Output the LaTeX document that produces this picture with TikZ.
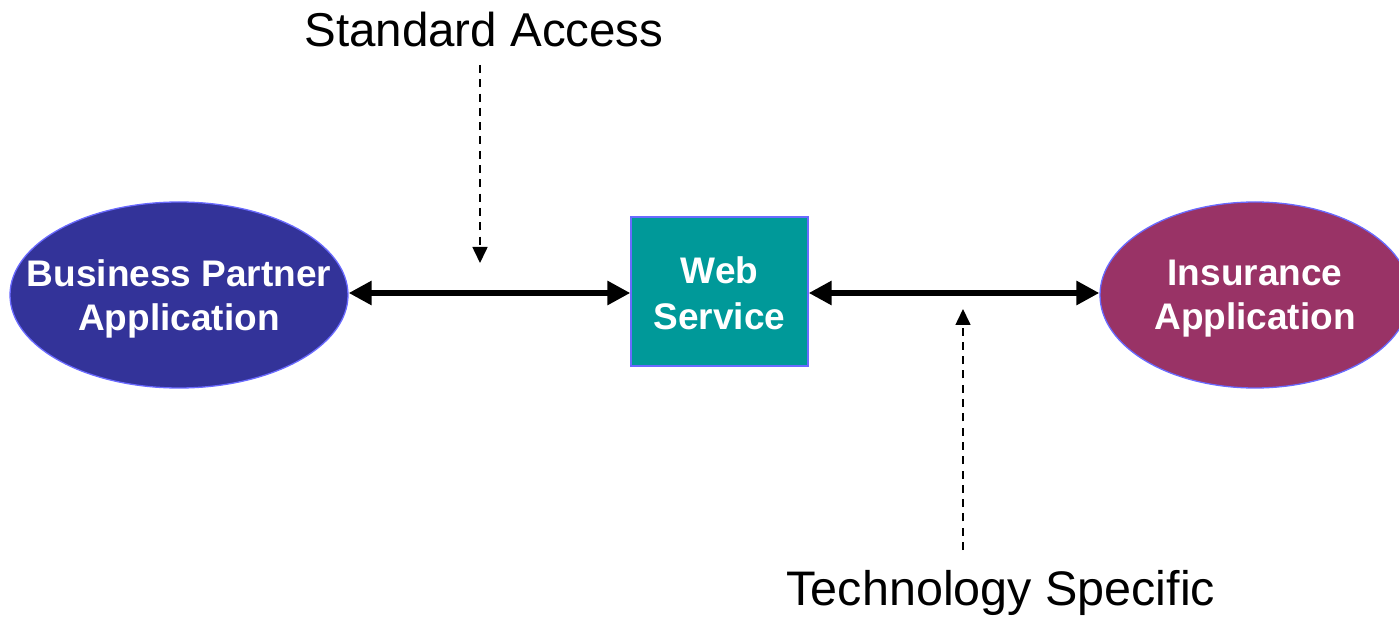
\documentclass[tikz,border=0pt]{standalone}
\usepackage{fontspec}
\setmainfont{Liberation Sans}
\usetikzlibrary{arrows.meta,shapes.geometric}
\definecolor{bpblue}{HTML}{333399}
\definecolor{insmag}{HTML}{993366}
\definecolor{wsteal}{HTML}{009999}
\definecolor{rimblue}{HTML}{6A6AFF}
\tikzset{
  appnode/.style={ellipse, draw=rimblue, line width=1.3pt, inner ysep=0pt, inner xsep=-40pt,
    minimum width=338pt, minimum height=186pt, text=white, align=center,
    text depth=0pt, font=\fontsize{37}{44}\selectfont\bfseries},
  wsnode/.style={rectangle, draw=rimblue, line width=1.3pt, fill=wsteal, inner sep=0pt,
    minimum width=177pt, minimum height=149pt, text=white, align=center,
    text height=77pt, text depth=0pt, font=\fontsize{37}{46}\selectfont\bfseries},
  biglabel/.style={anchor=base, inner sep=0pt},
  link/.style={line width=6.5pt, {Triangle[length=23pt,width=23pt]}-{Triangle[length=23pt,width=23pt]}},
  pointer/.style={line width=1.6pt, dash pattern=on 8pt off 6.3pt, -{Triangle[length=16pt,width=15pt]}}
}
\begin{document}
\begin{tikzpicture}[x=1pt,y=-1pt]
\useasboundingbox (0,0) rectangle (1399,617);
\node[appnode, fill=bpblue] (bp) at (179,295) {Business Partner\\Application};
\node[appnode, fill=insmag, minimum width=310pt] (ins) at (1255,295) {Insurance\\Application};
\node[wsnode] (ws) at (719.5,291.5) {Web\\Service};
\node[biglabel, font=\fontsize{47.5}{56}\selectfont] (sa) at (484,47) {Standard Access};
\node[biglabel, font=\fontsize{48.5}{58}\selectfont] (ts) at (1001,605) {Technology Specific};
\coordinate (saStart) at (480,65);
\coordinate (saTip) at (480,263);
\coordinate (tsStart) at (963,550);
\coordinate (tsTip) at (963,309);
\draw[link] (bp.east |- 0,293) -- (ws.west |- 0,293);
\draw[link] (ws.east |- 0,293) -- (ins.west |- 0,293);
\draw[pointer] (saStart) -- (saTip);
\draw[pointer] (tsStart) -- (tsTip);
\end{tikzpicture}
\end{document}
